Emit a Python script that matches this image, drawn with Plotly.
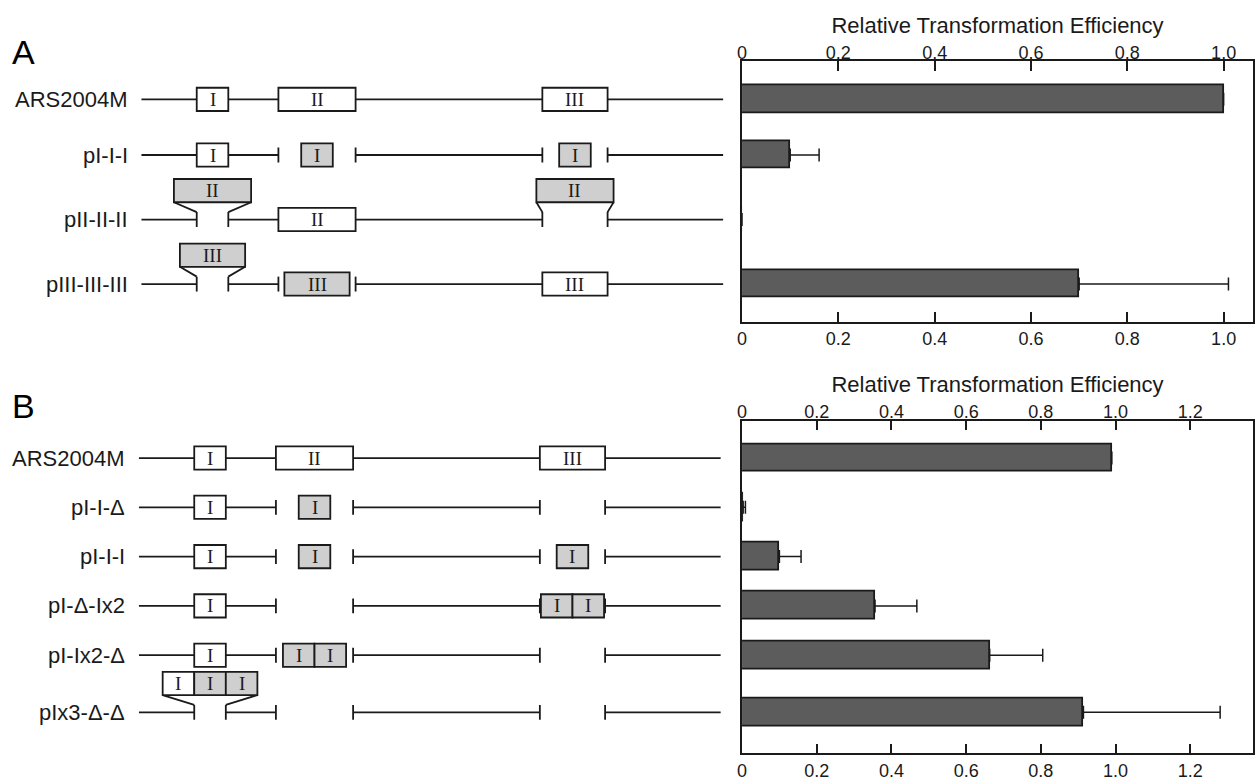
import plotly.graph_objects as go

# ---------------- data ----------------
rows_A = ["ARS2004M", "pI-I-I", "pII-II-II", "pIII-III-III"]
eff_A = [1.00, 0.10, 0.0, 0.70]
err_A = [None, 0.06, None, 0.31]
design_A = [
    ["wt", "wt", "wt"],
    ["wt", ["I"], ["I"]],
    [["II"], "wt", ["II"]],
    [["III"], ["III"], "wt"],
]

rows_B = ["ARS2004M", "pI-I-\u0394", "pI-I-I", "pI-\u0394-Ix2", "pI-Ix2-\u0394", "pIx3-\u0394-\u0394"]
eff_B = [0.99, 0.003, 0.10, 0.356, 0.663, 0.914]
err_B = [None, 0.006, 0.058, 0.112, 0.142, 0.366]
design_B = [
    ["wt", "wt", "wt"],
    ["wt", ["I"], "del"],
    ["wt", ["I"], ["I"]],
    ["wt", "del", ["I", "I"]],
    ["wt", ["I", "I"], "del"],
    [["wt:I", "I", "I"], "del", "del"],
]

# schematic element map of ARS2004M (arbitrary units along the construct)
elements = ["I", "II", "III"]
elem_start = [55.5, 137.5, 402.5]
elem_end = [87.2, 215.0, 468.0]
construct_len = 584

ticks_A = [0, 0.2, 0.4, 0.6, 0.8, 1.0]
ticklabels_A = ["0", "0.2", "0.4", "0.6", "0.8", "1.0"]
ticks_B = [0, 0.2, 0.4, 0.6, 0.8, 1.0, 1.2]
ticklabels_B = ["0", "0.2", "0.4", "0.6", "0.8", "1.0", "1.2"]

AXIS_TITLE = "Relative Transformation Efficiency"

# ---------------- style / layout ----------------
W, H = 1255, 781
INK = "#1a1a1a"
BAR = "#5c5c5c"
GRAY = "#cfcfcf"
SANS = "Liberation Sans, Arial, Helvetica, sans-serif"
SERIF = "Liberation Serif, Times New Roman, serif"
LW = 1.8


def fx(px):
    return px / W


def fy(px):
    return 1 - px / H


def elem_width(cell):
    name = cell.split(":")[-1]
    i = elements.index(name)
    return elem_end[i] - elem_start[i]


def fits(r, cells):
    return sum(elem_width(c) for c in cells) <= (elem_end[r] - elem_start[r]) + 2


def has_above(design_row):
    return any(isinstance(s, list) and not fits(r, s) for r, s in enumerate(design_row))


def row_positions(design):
    pos, p = [], 0.0
    for i, d in enumerate(design):
        if i > 0:
            p += 1.16 if has_above(d) else 1.0
        pos.append(p)
    return pos


panels = [
    dict(letter="A", rows=rows_A, eff=eff_A, err=err_A, design=design_A,
         ticks=ticks_A, ticklabels=ticklabels_A,
         top=61.7, bottom=324.0, yr=(-0.684, 4.0), xmax=1.061, dx0=-137.0,
         bar_px=27.5, letter_y=52.5, ax=("x", "y", "x2", "x3", "y2")),
    dict(letter="B", rows=rows_B, eff=eff_B, err=err_B, design=design_B,
         ticks=ticks_B, ticklabels=ticklabels_B,
         top=423.3, bottom=758.3, yr=(-0.760, 5.994), xmax=1.368, dx0=-134.5,
         bar_px=28.0, letter_y=409.0, ax=("x4", "y3", "x5", "x6", "y4")),
]

fig = go.Figure()
shapes = []
annotations = []
layout_axes = {}


def axkey(a):
    return ("xaxis" if a[0] == "x" else "yaxis") + a[1:]


for P in panels:
    xd, yd, xt, xb, yb = P["ax"]
    ppu = (P["bottom"] - P["top"]) / (P["yr"][1] - P["yr"][0])  # px per y unit
    u = lambda px: px / ppu
    pos = row_positions(P["design"])
    ydom = [fy(P["bottom"]), fy(P["top"])]

    # --- diagram axes (hidden) ---
    layout_axes[axkey(xd)] = dict(domain=[0, fx(740)], range=[P["dx0"], P["dx0"] + 740],
                                  visible=False, anchor=yd, fixedrange=True)
    layout_axes[axkey(yd)] = dict(domain=ydom, range=[P["yr"][1], P["yr"][0]],
                                  visible=False, anchor=xd, fixedrange=True)

    line = dict(color=INK, width=LW)
    hb = u(11.7)
    tk = u(7.5)

    def seg(x0, y0, x1, y1):
        shapes.append(dict(type="line", xref=xd, yref=yd, x0=x0, y0=y0, x1=x1, y1=y1, line=line))

    def box(x0, x1, y0, y1, fill, label):
        shapes.append(dict(type="rect", xref=xd, yref=yd, x0=x0, x1=x1, y0=y0, y1=y1,
                           fillcolor=fill, line=line))
        annotations.append(dict(xref=xd, yref=yd, x=(x0 + x1) / 2, y=(y0 + y1) / 2,
                                text=label, showarrow=False, xanchor="center", yanchor="middle",
                                font=dict(family=SERIF, size=19, color=INK)))

    for i, (name, d) in enumerate(zip(P["rows"], P["design"])):
        y = pos[i]
        # backbone with gaps
        s0 = 0.0
        for r, state in enumerate(d):
            if state != "wt":
                seg(s0, y, elem_start[r], y)
                seg(elem_start[r], y - tk, elem_start[r], y + tk)
                seg(elem_end[r], y - tk, elem_end[r], y + tk)
                s0 = elem_end[r]
        seg(s0, y, construct_len, y)
        # elements
        for r, state in enumerate(d):
            if state == "wt":
                box(elem_start[r], elem_end[r], y - hb, y + hb, "white", elements[r])
            elif isinstance(state, list):
                total = sum(elem_width(c) for c in state)
                cx = (elem_start[r] + elem_end[r]) / 2
                left = cx - total / 2
                if fits(r, state):
                    y0, y1 = y - hb, y + hb
                else:
                    y1 = y - u(17.4)
                    y0 = y1 - u(23.4)
                    seg(left, y1, elem_start[r], y - tk)
                    seg(left + total, y1, elem_end[r], y - tk)
                x = left
                for c in state:
                    w = elem_width(c)
                    native = c.startswith("wt:")
                    box(x, x + w, y0, y1, "white" if native else GRAY, c.split(":")[-1])
                    x += w
        annotations.append(dict(xref=xd, yref=yd, x=-12, y=y, text=name, showarrow=False,
                                xanchor="right", yanchor="middle",
                                font=dict(family=SANS, size=22, color=INK)))

    # --- bar chart ---
    fig.add_trace(go.Bar(
        x=P["eff"], y=pos, orientation="h", width=u(P["bar_px"]),
        marker=dict(color=BAR, line=dict(color=INK, width=LW)),
        error_x=dict(type="data", array=P["err"], arrayminus=[0] * len(P["err"]),
                     symmetric=False, color=INK, thickness=1.5, width=6.5),
        xaxis=xb, yaxis=yb, showlegend=False, hoverinfo="skip"))
    # invisible companion trace so the top (mirrored) axis gets drawn
    fig.add_trace(go.Scatter(
        x=P["eff"], y=pos, mode="markers", marker=dict(opacity=0, size=1),
        xaxis=xt, yaxis=yb, showlegend=False, hoverinfo="skip"))

    common = dict(domain=[fx(740), fx(1253)], range=[0, P["xmax"]], tickvals=P["ticks"],
                  ticktext=P["ticklabels"], ticks="inside", ticklen=10, tickwidth=LW,
                  tickcolor=INK, showline=True, linewidth=LW, linecolor=INK,
                  showgrid=False, zeroline=False, fixedrange=True,
                  tickfont=dict(family=SANS, size=18, color=INK))
    layout_axes[axkey(xb)] = dict(common, anchor=yb, side="bottom")
    layout_axes[axkey(xt)] = dict(common, anchor=yb, side="top", overlaying=xb,
                                  ticklabelstandoff=-7,
                                  title=dict(text=AXIS_TITLE, standoff=4,
                                             font=dict(family=SANS, size=22, color=INK)))
    layout_axes[axkey(yb)] = dict(domain=ydom, range=[P["yr"][1], P["yr"][0]], anchor=xb,
                                  showline=True, mirror=True, linewidth=LW, linecolor=INK,
                                  ticks="", showticklabels=False, showgrid=False,
                                  zeroline=False, fixedrange=True)

    annotations.append(dict(xref="paper", yref="paper", x=fx(5), y=fy(P["letter_y"]),
                            text=P["letter"], showarrow=False, xanchor="left", yanchor="middle",
                            font=dict(family=SANS, size=34, color="black")))

fig.update_layout(
    width=W, height=H, margin=dict(l=0, r=0, t=0, b=0),
    paper_bgcolor="white", plot_bgcolor="rgba(0,0,0,0)",
    shapes=shapes, annotations=annotations, bargap=0, **layout_axes)

fig.write_html("out.html", config={"displayModeBar": False},
               post_script="document.body.style.margin='0';document.body.style.overflow='hidden';")
